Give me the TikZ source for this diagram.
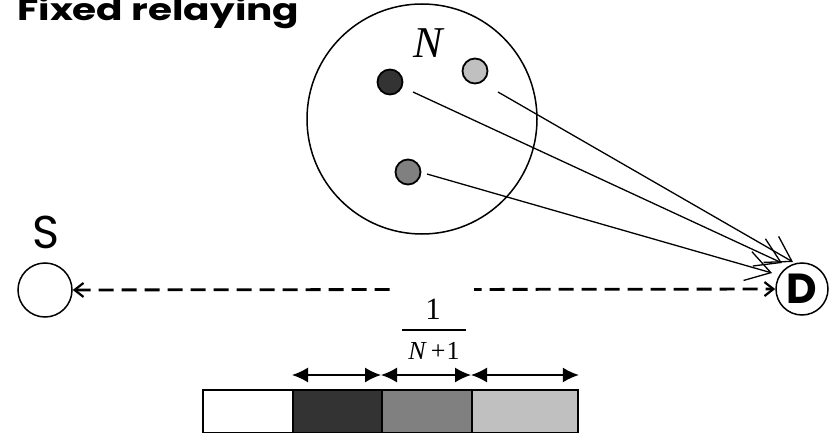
\documentclass[tikz,border=0pt]{standalone}
\usepackage{fontspec}
\usetikzlibrary{arrows.meta}
\newfontfamily\comicfont{Poppins}
\newfontfamily\timesfont{Liberation Serif}
\tikzset{
  relay/.style={circle, draw, line width=1.8pt, minimum size=25pt, inner sep=0pt},
  endnode/.style={circle, draw, line width=1.5pt, minimum size=54pt, inner sep=0pt},
  relayarrow/.style={line width=1.3pt, -{Straight Barb[length=24pt,width=30pt]}},
  dashline/.style={line width=2.8pt, dash pattern=on 15pt off 8pt,
     {Straight Barb[length=9pt,width=14pt,line width=2.2pt]}-{Straight Barb[length=9pt,width=14pt,line width=2.2pt]}},
  cell/.style={draw, line width=1.8pt, minimum height=43pt, inner sep=0pt, anchor=north west},
  span/.style={line width=1.5pt, {Latex[length=16pt,width=15pt]}-{Latex[length=16pt,width=15pt]}}
}
\begin{document}
\begin{tikzpicture}[x=1pt,y=-1pt]
\useasboundingbox (0,0) rectangle (830,433);
% title
\node[anchor=base west, inner sep=0pt, font=\comicfont\bfseries\fontsize{30}{32}\selectfont] (title) at (17,21) {\scalebox{1.3}[1]{Fixed relaying}};
% cluster
\node[circle, draw, line width=1.5pt, minimum size=230pt, inner sep=0pt] (cluster) at (422,119) {};
\node[font=\timesfont\itshape\fontsize{44}{48}\selectfont, inner sep=0pt] (N) at (428,43) {N};
\node[relay, fill={rgb,255:red,51;green,51;blue,51}] (dark) at (390,82) {};
\node[relay, fill={rgb,255:red,192;green,192;blue,192}] (light) at (475,71) {};
\node[relay, fill={rgb,255:red,128;green,128;blue,128}] (mid) at (408,172) {};
% end nodes
\node[endnode] (S) at (45,290) {};
\node[font=\comicfont\fontsize{46}{50}\selectfont, inner sep=0pt] (Slabel) at (46,232) {S};
\node[endnode, minimum size=52pt, font=\comicfont\bfseries\fontsize{42}{46}\selectfont] (D) at (802,289) {D};
% relay links
\coordinate (sL) at (498,92);
\coordinate (sD) at (413,92);
\coordinate (sM) at (427,174);
\coordinate (tL) at (793,262);
\coordinate (tD) at (782,263);
\coordinate (tM) at (772,273);
\draw[relayarrow] (sL) -- (tL);
\draw[relayarrow] (sD) -- (tD);
\draw[relayarrow] (sM) -- (tM);
% direct link
\draw[dashline] (S) -- (D);
% fraction
\node[fill=white, minimum width=84pt, minimum height=48pt, inner sep=0pt] (fracbox) at (432,311) {};
\node[font=\timesfont\fontsize{31}{32}\selectfont, inner sep=0pt] (num) at (433,309) {1};
\coordinate (fl) at (402,330);
\coordinate (fr) at (466,330);
\draw[line width=1.4pt] (fl) -- (fr);
\node[font=\timesfont\fontsize{26}{28}\selectfont, inner sep=0pt, anchor=base] (den) at (434,359) {\textit{N}\hspace{4pt}+\hspace{1pt}1};
% bar
\node[cell, minimum width=90pt, fill=white] (c1) at (202,389) {};
\node[cell, minimum width=89pt, fill={rgb,255:red,51;green,51;blue,51}] (c2) at (292,389) {};
\node[cell, minimum width=90pt, fill={rgb,255:red,128;green,128;blue,128}] (c3) at (381,389) {};
\node[cell, minimum width=106pt, fill={rgb,255:red,192;green,192;blue,192}] (c4) at (471,389) {};
\coordinate (a1) at ([yshift=14pt]c2.north west);
\coordinate (a2) at ([yshift=14pt]c3.north west);
\coordinate (a3) at ([yshift=14pt]c4.north west);
\coordinate (a4) at ([yshift=14pt]c4.north east);
\draw[span] (a1) -- (a2);
\draw[span] (a2) -- (a3);
\draw[span] (a3) -- (a4);
\end{tikzpicture}
\end{document}
